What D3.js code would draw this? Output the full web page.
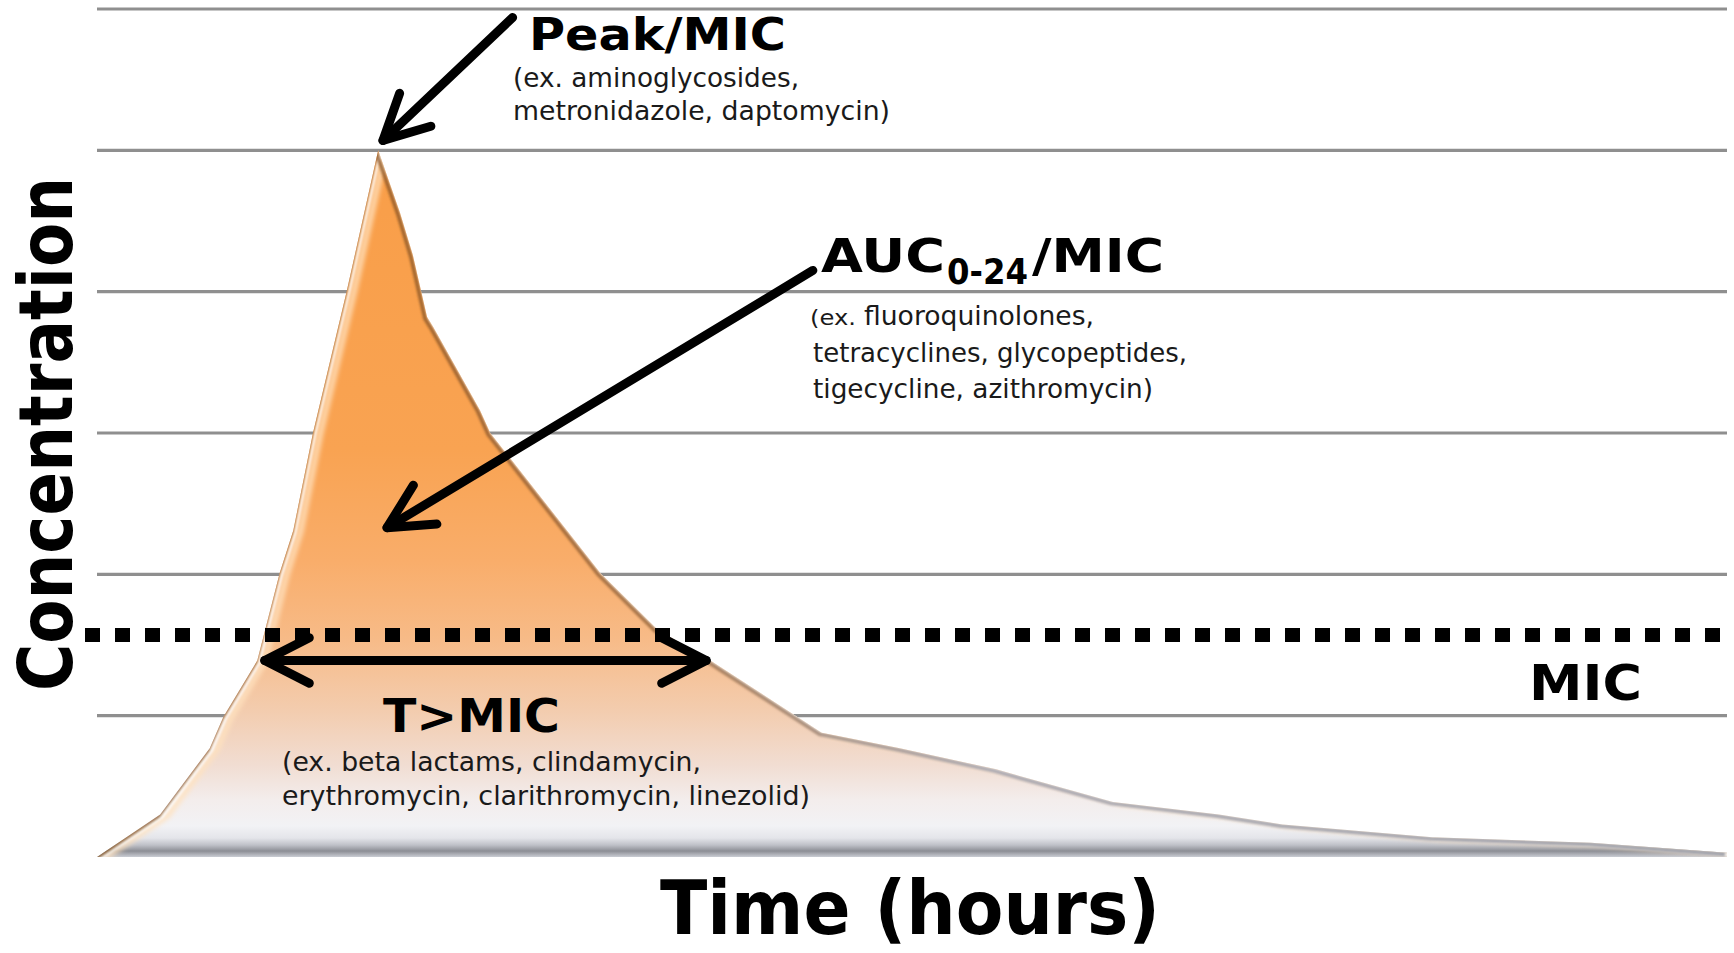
<!DOCTYPE html>
<html>
<head>
<meta charset="utf-8">
<script src="https://cdn.jsdelivr.net/npm/d3@7"></script>
<style>
  html, body { margin: 0; padding: 0; background: #ffffff; }
  svg { display: block; }
  text { font-family: "DejaVu Sans", Verdana, sans-serif; fill: #000; }
</style>
</head>
<body>
<svg id="chart" width="1734" height="953"></svg>
<script>
// Plasma concentration over a dosing interval (arbitrary concentration units)
const hours = [0, 0.93, 1.66, 1.86, 2.36, 2.69, 2.89, 3.18, 3.68, 4.14, 4.46, 4.65, 4.86, 4.95,
               5.64, 5.79, 7.41, 8.25, 9.03, 10.67, 11.82, 13.24, 14.96, 16.52, 17.46, 19.66, 22.0, 24.0];
const concentration = [0, 0.30, 0.77, 0.99, 1.39, 2.01, 2.31, 3.00, 4.01, 5.00, 4.56, 4.26, 3.82, 3.75,
                       3.16, 3.00, 2.01, 1.61, 1.39, 0.88, 0.77, 0.62, 0.39, 0.30, 0.23, 0.14, 0.10, 0.03];
const gridLevels = [1, 2, 3, 4, 5, 6];
const micLevel = 1.57;
const timeDomain = [0, 24];
const concDomain = [0, 6];

const profile = hours.map((h, i) => ({ h, c: concentration[i] }));

const svg = d3.select("#chart");
const W = 1734, H = 953;
const x = d3.scaleLinear().domain(timeDomain).range([97, 1727]);
const y = d3.scaleLinear().domain(concDomain).range([857, 9]);

const defs = svg.append("defs");

// vertical fill: orange at the peak fading to a pale grey base with a bevelled bottom edge
const y0 = y(5), y1 = y(0);
const off = v => ((v - y0) / (y1 - y0));
const fillStops = [
  [y0, "#F99E48"], [450, "#F9A352"], [560, "#F9AD6A"], [640, "#F7BB88"],
  [710, "#F3CCAE"], [765, "#F1DDD2"], [800, "#F3EDEC"], [826, "#F2F2F5"],
  [838, "#E4E5EA"], [845, "#BFC1C8"], [851, "#8C8E95"], [857, "#CACDD4"]
];
const grad = defs.append("linearGradient").attr("id", "areaFill")
  .attr("gradientUnits", "userSpaceOnUse")
  .attr("x1", 0).attr("x2", 0).attr("y1", y0).attr("y2", y1);
fillStops.forEach(([v, col]) => grad.append("stop").attr("offset", off(v)).attr("stop-color", col));

// edge shadow: brown along the peak, grey along the tail
const shade = defs.append("linearGradient").attr("id", "edgeShade")
  .attr("gradientUnits", "userSpaceOnUse")
  .attr("x1", x(0)).attr("x2", x(24)).attr("y1", 0).attr("y2", 0);
shade.append("stop").attr("offset", 0).attr("stop-color", "#7a4614");
shade.append("stop").attr("offset", 0.35).attr("stop-color", "#8a5a30");
shade.append("stop").attr("offset", 0.55).attr("stop-color", "#8e8c98");
shade.append("stop").attr("offset", 1).attr("stop-color", "#7e8290");

defs.append("filter").attr("id", "blur2").attr("x", "-5%").attr("y", "-5%").attr("width", "110%").attr("height", "110%")
  .append("feGaussianBlur").attr("stdDeviation", 2.2);
defs.append("filter").attr("id", "blur1").attr("x", "-5%").attr("y", "-5%").attr("width", "110%").attr("height", "110%")
  .append("feGaussianBlur").attr("stdDeviation", 1.1);

const area = d3.area().x(d => x(d.h)).y0(y(0)).y1(d => y(d.c)).curve(d3.curveLinear);
const edge = d3.line().x(d => x(d.h)).y(d => y(d.c)).curve(d3.curveLinear);

defs.append("clipPath").attr("id", "areaClip").append("path").attr("d", area(profile));

// horizontal gridlines
svg.append("g").selectAll("line").data(gridLevels).join("line")
  .attr("x1", x(0)).attr("x2", x(24))
  .attr("y1", d => y(d)).attr("y2", d => y(d))
  .attr("stroke", "#8f8f8f").attr("stroke-width", 3.2);

// concentration curve as a shaded area
svg.append("path").attr("d", area(profile)).attr("fill", "url(#areaFill)");

const bevel = svg.append("g").attr("clip-path", "url(#areaClip)");
bevel.append("path").attr("d", edge(profile))
  .attr("fill", "none").attr("stroke", "#ffe2bf").attr("stroke-width", 7)
  .attr("stroke-opacity", 0.75).attr("filter", "url(#blur2)")
  .attr("transform", "translate(7,1)");
bevel.append("path").attr("d", edge(profile))
  .attr("fill", "none").attr("stroke", "#ffffff").attr("stroke-width", 3)
  .attr("stroke-opacity", 0.85).attr("filter", "url(#blur1)")
  .attr("transform", "translate(2,2)");
bevel.append("path").attr("d", edge(profile))
  .attr("fill", "none").attr("stroke", "url(#edgeShade)").attr("stroke-width", 4)
  .attr("stroke-opacity", 0.7).attr("filter", "url(#blur1)")
  .attr("transform", "translate(-2,1.5)");

// MIC threshold
svg.append("line")
  .attr("x1", 85).attr("x2", W).attr("y1", y(micLevel)).attr("y2", y(micLevel))
  .attr("stroke", "#000").attr("stroke-width", 14).attr("stroke-dasharray", "15,15");

// annotation arrows (data units: hours, concentration)
function arrow(from, to, bothEnds) {
  const p0 = [x(from[0]), y(from[1])], p1 = [x(to[0]), y(to[1])];
  const g = svg.append("g").attr("stroke", "#000").attr("stroke-width", 9)
    .attr("stroke-linecap", "round").attr("stroke-linejoin", "round").attr("fill", "none");
  g.append("line").attr("x1", p0[0]).attr("y1", p0[1]).attr("x2", p1[0]).attr("y2", p1[1]);
  const head = (tip, tail) => {
    const a = Math.atan2(tail[1] - tip[1], tail[0] - tip[0]);
    const L = 50, s = 27 * Math.PI / 180;
    const pa = [tip[0] + L * Math.cos(a + s), tip[1] + L * Math.sin(a + s)];
    const pb = [tip[0] + L * Math.cos(a - s), tip[1] + L * Math.sin(a - s)];
    g.append("path").attr("d", `M${pa[0]},${pa[1]}L${tip[0]},${tip[1]}L${pb[0]},${pb[1]}`);
  };
  head(p1, p0);
  if (bothEnds) head(p0, p1);
}
arrow([6.12, 5.94], [4.21, 5.07], false);
arrow([10.54, 4.15], [4.27, 2.33], false);
arrow([2.47, 1.39], [8.97, 1.39], true);

// text labels
function label(px, py, str, size, width, weight, color) {
  return svg.append("text")
    .attr("x", px).attr("y", py)
    .attr("font-size", size).attr("font-weight", weight || "normal")
    .attr("textLength", width).attr("lengthAdjust", "spacingAndGlyphs")
    .style("fill", color || "#000")
    .text(str);
}
const ex = "#1a1a1a";

label(529, 50, "Peak/MIC", 45, 257, "bold");
label(513, 87, "(ex. aminoglycosides,", 27, 286, "normal", ex);
label(513, 120, "metronidazole, daptomycin)", 27, 377, "normal", ex);

label(821, 272, "AUC", 47, 124, "bold");
label(947, 284, "0-24", 35, 81, "bold");
label(1032, 272, "/MIC", 47, 132, "bold");
label(810, 325, "(ex.", 21, 46, "normal", ex);
label(864, 325, "fluoroquinolones,", 27, 230, "normal", ex);
label(813, 362, "tetracyclines, glycopeptides,", 27, 374, "normal", ex);
label(813, 398, "tigecycline, azithromycin)", 27, 340, "normal", ex);

label(383, 732, "T>MIC", 47, 177, "bold");
label(282, 771, "(ex. beta lactams, clindamycin,", 27, 419, "normal", ex);
label(282, 805, "erythromycin, clarithromycin, linezolid)", 27, 528, "normal", ex);

label(1529, 700, "MIC", 50, 113, "bold");

// axis titles
label(660, 934, "Time (hours)", 74, 500, "bold");
svg.append("text")
  .attr("transform", "translate(72,691) rotate(-90)")
  .attr("font-size", 75).attr("font-weight", "bold")
  .attr("textLength", 514).attr("lengthAdjust", "spacingAndGlyphs")
  .text("Concentration");
</script>
</body>
</html>
